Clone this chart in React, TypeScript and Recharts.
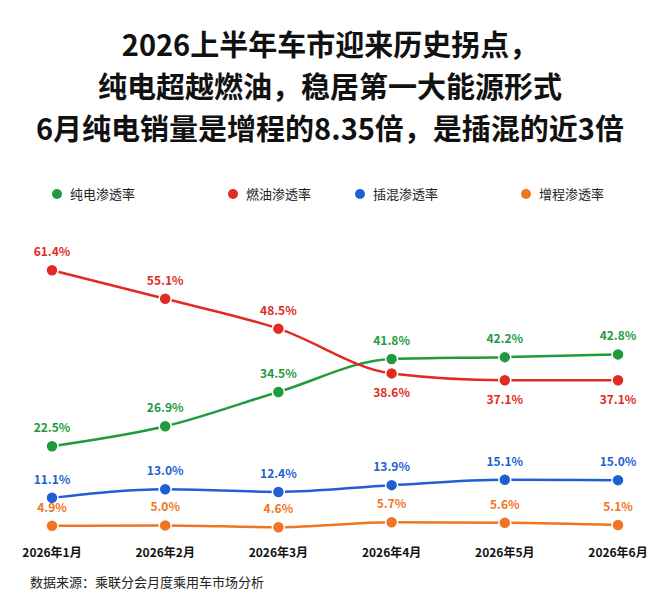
import { LineChart, Line, XAxis, YAxis } from 'recharts'

const months = ['2026年1月', '2026年2月', '2026年3月', '2026年4月', '2026年5月', '2026年6月']
const bev = [22.5, 26.9, 34.5, 41.8, 42.2, 42.8]
const ice = [61.4, 55.1, 48.5, 38.6, 37.1, 37.1]
const phev = [11.1, 13.0, 12.4, 13.9, 15.1, 15.0]
const erev = [4.9, 5.0, 4.6, 5.7, 5.6, 5.1]

const SERIES = [
  { key: 'bev', name: '纯电渗透率', color: '#1f9a3e', below: [] as number[] },
  { key: 'ice', name: '燃油渗透率', color: '#e12a23', below: [3, 4, 5] },
  { key: 'phev', name: '插混渗透率', color: '#1f5fd3', below: [] as number[] },
  { key: 'erev', name: '增程渗透率', color: '#f07423', below: [] as number[] },
]

const data = months.map((m, i) => ({ m, bev: bev[i], ice: ice[i], phev: phev[i], erev: erev[i] }))

const font = '"Noto Sans CJK SC", "Noto Sans", sans-serif'

function makeLabel(color: string, below: number[]) {
  return (p: any) => {
    const dy = below.includes(p.index) ? 24 : -14
    return (
      <text x={p.x} y={p.y + dy} textAnchor="middle" fill={color} fontSize={12} fontWeight={700} fontFamily={font}>
        {Number(p.value).toFixed(1)}%
      </text>
    )
  }
}

export default function App() {
  return (
    <div style={{ position: 'relative', width: 660, height: 601, margin: -8, background: '#fff', fontFamily: font }}>
      <div style={{ position: 'absolute', top: 22, width: 660, textAlign: 'center', fontSize: 29, fontWeight: 700, lineHeight: '42px', color: '#111' }}>
        <div>2026上半年车市迎来历史拐点，</div>
        <div>纯电超越燃油，稳居第一大能源形式</div>
        <div>6月纯电销量是增程的8.35倍，是插混的近3倍</div>
      </div>
      <div style={{ position: 'absolute', top: 184, left: 0, width: 660, height: 20 }}>
        {SERIES.map((s, i) => (
          <div key={s.key} style={{ position: 'absolute', left: [52, 228, 355, 521][i], display: 'flex', alignItems: 'center', fontSize: 13, color: '#222', whiteSpace: 'nowrap' }}>
            <span style={{ width: 10, height: 10, borderRadius: 5, background: s.color, marginRight: 8 }} />
            {s.name}
          </div>
        ))}
      </div>
      <div style={{ position: 'absolute', top: 240, left: 0 }}>
        <LineChart width={660} height={333} data={data} margin={{ top: 14, right: 42, bottom: 0, left: 52 }}>
          <XAxis dataKey="m" axisLine={false} tickLine={false} height={25} dy={-8}
            tick={{ fontSize: 12, fontWeight: 700, fill: '#111', fontFamily: font }} padding={{ left: 0, right: 0 }} />
          <YAxis hide domain={[0, 65]} />
          {SERIES.map((s) => (
            <Line key={s.key} dataKey={s.key} type="monotone" stroke={s.color} strokeWidth={2.5}
              dot={{ r: 6, fill: s.color, stroke: '#fff', strokeWidth: 1.5 }}
              label={makeLabel(s.color, s.below)} isAnimationActive={false} />
          ))}
        </LineChart>
      </div>
      <div style={{ position: 'absolute', top: 572, left: 30, fontSize: 13, color: '#222' }}>
        数据来源：乘联分会月度乘用车市场分析
      </div>
    </div>
  )
}
